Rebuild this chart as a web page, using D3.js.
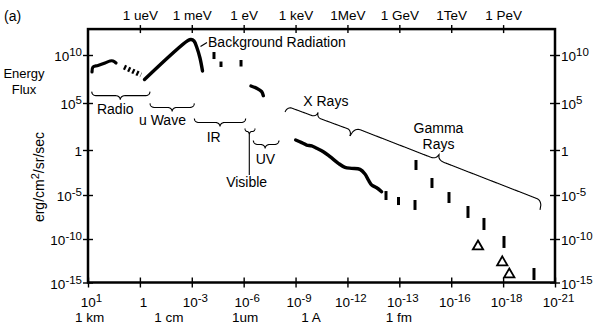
<!DOCTYPE html>
<html><head><meta charset="utf-8">
<script src="https://cdn.jsdelivr.net/npm/d3@7"></script>
<style>
body{margin:0;background:#fff;}
svg text{font-family:"Liberation Sans",Arial,Helvetica,sans-serif;fill:#000;}
</style></head><body>
<svg id="chart" width="602" height="324"></svg>
<script>
// ---------------- data ----------------
// x values are positions in units of the (irregular) wavelength tick grid; y values are log10(flux)
const xTickIndex = [0,1,2,3,4,5,6,7,8,9];
const bottomTickLabels = ["10^1","1","10^-3","10^-6","10^-9","10^-12","10^-13","10^-16","10^-18","10^-21"];
const unitLabels = ["1 km","1 cm","1um","1 A","1 fm"];
const unitLabelAt = [0.03,1.56,3.03,4.30,5.99];
const topTickIndex = [1,2,3,4,5,6,7,8];
const topTickLabels = ["1 ueV","1 meV","1 eV","1 keV","1MeV","1 GeV","1TeV","1 PeV"];
const fluxTicks = [1e10,1e5,1,1e-5,1e-10,1e-15];
const fluxTickLabels = ["10^10","10^5","1","10^-5","10^-10","10^-15"];

const radioCurve = [[0.077,8.23],[0.096,8.75],[0.193,8.91],[0.328,9.17],[0.424,9.38],[0.482,9.38],[0.540,9.17]];
const radioDashed = [[0.694,8.75],[1.021,7.92]];
const backgroundCurve = [[1.089,7.45],[1.927,11.51],[1.985,11.61],[2.043,11.46],[2.101,10.73],[2.158,9.69],[2.207,8.33]];
const irBars = [[2.428,10.31,9.58],[2.563,9.32,8.75],[2.949,9.48,8.80]];
const uvCurve = [[3.141,6.77],[3.251,6.53],[3.347,6.18],[3.378,5.76]];
const xrayCurve = [[4.002,1.06],[4.118,0.78],[4.214,0.53],[4.310,0.43],[4.407,0.18],[4.535,-0.19],[4.664,-0.74],
  [4.824,-1.48],[4.953,-1.93],[5.081,-2.04],[5.242,-2.15],[5.338,-2.67],[5.402,-3.33],[5.467,-3.89],[5.563,-4.19],[5.659,-4.63]];
const gammaBars = [[5.743,-4.56,-5.57],[5.984,-5.23,-6.14],[6.302,-5.57,-6.70],[6.321,-1.11,-2.22],[6.629,-3.11,-4.22],
  [6.957,-4.67,-5.91],[7.323,-6.25,-7.61],[7.631,-7.61,-8.98],[8.017,-9.66,-11.03],[8.595,-13.33,-14.71]];
const cosmicTriangles = [[7.516,-10.86],[7.984,-12.68],[8.119,-14.07]];

const bandNames = ["Radio","u Wave","IR","Visible","UV"];
const bandFrom  = [0.071,1.195,2.049,3.026,3.186];
const bandTo    = [1.195,2.049,3.039,3.218,3.681];
const bandLevel = [6.18,4.95,3.35,2.29,1.01];
const bandTip   = [0.49,0.50,0.50,0.43,0.46];
const bandLabelX = [0.173,0.983,2.287,3.058,3.232];
const bandLabelY = [3.83,2.61,0.80,-4.06,-1.56];
const visibleLineEnd = -2.78;

const slantNames = ["X Rays","Gamma Rays"];
const slantFrom = [[3.797,4.04],[5.049,1.49]];
const slantTo   = [[5.049,1.49],[8.711,-6.70]];
const slantTip  = [0.45,0.44];

const bgLabel = {text:"Background Radiation", x:2.313, y:10.83};
const bgLeader = [[2.168,10.89],[2.293,11.30]];
const xrayLabel = {text:"X Rays", x:4.149, y:4.63};
const gammaLabel = [{text:"Gamma", x:6.755, y:1.76},{text:"Rays", x:6.755, y:0.11}];

// ---------------- scales ----------------
const x = d3.scaleLinear().domain([0,9]).range([88,555]);
const y = d3.scaleLog().domain([1e-15,1e-10,1e-5,1,1e5,1e10]).range([282.5,239,195,150,103,55]);
const fluxMax = Math.pow(10,12.7);
const Y = L => y(Math.pow(10,L));

const svg = d3.select("#chart");

function sup(sel, str, base, supSize, raise){
  const parts = str.split("^");
  sel.text(null).style("font-size", base+"px");
  sel.append("tspan").text(parts[0]);
  if (parts[1] !== undefined) sel.append("tspan").attr("dy", -raise).style("font-size", supSize+"px").text(parts[1]);
}

// frame
svg.append("rect").attr("x",x(0)).attr("y",y(fluxMax))
  .attr("width",x(9)-x(0)).attr("height",y(1e-15)-y(fluxMax))
  .attr("fill","none").attr("stroke","#000").attr("stroke-width",2.5);

function clean(g){
  g.attr("font-size",null).attr("font-family",null);
  g.select(".domain").remove();
  g.selectAll(".tick line").attr("stroke","#000").attr("stroke-width",1.4);
}

// bottom axis
const gb = svg.append("g").attr("transform",`translate(0,${y(1e-15)})`)
  .call(d3.axisBottom(x).tickValues(xTickIndex).tickFormat((d,i)=>bottomTickLabels[i]));
clean(gb);
gb.selectAll(".tick line").attr("y1",-5).attr("y2",5);
gb.selectAll(".tick text").attr("y",24.5).attr("dy",null).attr("x",3)
  .each(function(d,i){ sup(d3.select(this), bottomTickLabels[i], 13.5, 11.5, 5); });

svg.append("g").selectAll("text").data(unitLabels).join("text")
  .attr("x",(d,i)=>x(unitLabelAt[i])).attr("y",322).attr("text-anchor","middle")
  .style("font-size","13.5px").text(d=>d);

// top axis
const gt = svg.append("g").attr("transform",`translate(0,${y(fluxMax)})`)
  .call(d3.axisTop(x).tickValues(topTickIndex).tickFormat((d,i)=>topTickLabels[i]));
clean(gt);
gt.selectAll(".tick line").attr("y1",-4).attr("y2",4);
gt.selectAll(".tick text").attr("y",-9).attr("dy",null).style("font-size","13.5px");

// left axis
const gl = svg.append("g").attr("transform",`translate(${x(0)},0)`)
  .call(d3.axisLeft(y).tickValues(fluxTicks).tickFormat((d,i)=>fluxTickLabels[i]));
clean(gl);
gl.selectAll(".tick line").attr("x1",-5).attr("x2",5);
gl.selectAll(".tick text").attr("x",-6).attr("dy",null).attr("y",5.5)
  .each(function(d,i){ sup(d3.select(this), fluxTickLabels[i], 13.5, 11.5, 5); });

// right axis
const gr = svg.append("g").attr("transform",`translate(${x(9)},0)`)
  .call(d3.axisRight(y).tickValues(fluxTicks).tickFormat((d,i)=>fluxTickLabels[i]));
clean(gr);
gr.selectAll(".tick line").attr("x1",-5).attr("x2",5);
gr.selectAll(".tick text").attr("x",6).attr("dy",null).attr("y",5.5)
  .each(function(d,i){ sup(d3.select(this), fluxTickLabels[i], 13.5, 11.5, 5); });

// titles
svg.append("text").attr("x",4).attr("y",21).style("font-size","14px").text("(a)");
svg.append("text").attr("x",24).attr("y",78).attr("text-anchor","middle").style("font-size","13px").text("Energy");
svg.append("text").attr("x",24).attr("y",93.5).attr("text-anchor","middle").style("font-size","13px").text("Flux");
const yl = svg.append("text").attr("transform","translate(44,177) rotate(-90)").attr("text-anchor","middle").style("font-size","14px");
yl.append("tspan").text("erg/cm");
yl.append("tspan").attr("dy",-5).style("font-size","11px").text("2");
yl.append("tspan").attr("dy",5).text("/sr/sec");

// ---------------- marks ----------------
const line = d3.line().x(d=>x(d[0])).y(d=>Y(d[1]));
const thick = (data, curve, w) => svg.append("path").datum(data)
  .attr("d", line.curve(curve)(data)).attr("fill","none").attr("stroke","#000")
  .attr("stroke-width",w).attr("stroke-linejoin","round").attr("stroke-linecap","round");

thick(radioCurve, d3.curveCatmullRom.alpha(0.5), 3.2);
svg.append("path").attr("d", d3.line().x(d=>x(d[0])).y(d=>Y(d[1]))(radioDashed))
  .attr("fill","none").attr("stroke","#000").attr("stroke-width",5).attr("stroke-dasharray","2.2,2.4");
thick(backgroundCurve, d3.curveCatmullRom.alpha(0.5), 3.4);
thick(uvCurve, d3.curveCatmullRom.alpha(0.5), 3.4);
thick(xrayCurve, d3.curveCatmullRom.alpha(0.5), 3.4);

svg.append("g").selectAll("line").data(irBars.concat(gammaBars)).join("line")
  .attr("x1",d=>x(d[0])).attr("x2",d=>x(d[0]))
  .attr("y1",d=>Y(d[1])).attr("y2",d=>Y(d[2]))
  .attr("stroke","#000").attr("stroke-width",3);

svg.append("g").selectAll("path").data(cosmicTriangles).join("path")
  .attr("transform",d=>`translate(${x(d[0])},${Y(d[1])})`)
  .attr("d", d3.symbol(d3.symbolTriangle, 46)())
  .attr("fill","none").attr("stroke","#000").attr("stroke-width",1.8);

// ---------------- braces ----------------
function bracePoints(p0, p1, f, flat, tip, hook){
  const dx=p1[0]-p0[0], dy=p1[1]-p0[1], len=Math.hypot(dx,dy);
  const ux=dx/len, uy=dy/len, nx=-uy, ny=ux;
  const tipS=f*len;
  function prof(s,L){
    const h=Math.min(hook,L/2);
    if (s<h){ const v=s/h; return flat*Math.sqrt(Math.max(0,1-(1-v)*(1-v))); }
    if (s>L-h){ const v=(s-(L-h))/h; return flat+(tip-flat)*(1-Math.sqrt(Math.max(0,1-v*v))); }
    return flat;
  }
  const ss=d3.range(0,201).map(i=>i/200*len).concat([tipS]).sort((a,b)=>a-b);
  return ss.map(s=>{
    const off = s<=tipS ? prof(s,tipS) : prof(len-s,len-tipS);
    return [p0[0]+ux*s+nx*off, p0[1]+uy*s+ny*off];
  });
}
const braceLine = d3.line();
const braceG = svg.append("g").attr("fill","none").attr("stroke","#000").attr("stroke-width",1.1);
bandNames.forEach((name,i)=>{
  const small = name==="Visible";
  const p0=[x(bandFrom[i]),Y(bandLevel[i])], p1=[x(bandTo[i]),Y(bandLevel[i])];
  braceG.append("path").attr("d", braceLine(bracePoints(p0,p1,bandTip[i], small?3:4, small?6.5:8, small?2.5:4.5)));
  if (small){
    const tx = p0[0]+(p1[0]-p0[0])*bandTip[i];
    braceG.append("line").attr("x1",tx).attr("x2",tx).attr("y1",p0[1]+6.5).attr("y2",Y(visibleLineEnd));
  }
});
slantNames.forEach((name,i)=>{
  const p0=[x(slantFrom[i][0]),Y(slantFrom[i][1])], p1=[x(slantTo[i][0]),Y(slantTo[i][1])];
  const big = i===1;
  braceG.append("path").attr("d", braceLine(bracePoints(p0,p1,slantTip[i], big?-9.5:-6, big?-15:-11, big?7:5)));
});

// ---------------- labels ----------------
const lab = (t,xx,yy,anchor)=>svg.append("text").attr("x",x(xx)).attr("y",Y(yy))
  .attr("text-anchor",anchor||"start").style("font-size","14px").text(t);
bandNames.forEach((n,i)=>lab(n, bandLabelX[i], bandLabelY[i], n==="Visible"?"middle":"start"));
lab(bgLabel.text, bgLabel.x, bgLabel.y);
svg.append("path").attr("d", d3.line().x(d=>x(d[0])).y(d=>Y(d[1]))(bgLeader))
  .attr("stroke","#000").attr("stroke-width",1.2).attr("fill","none");
lab(xrayLabel.text, xrayLabel.x, xrayLabel.y);
gammaLabel.forEach(g=>lab(g.text,g.x,g.y,"middle"));
</script></body></html>
